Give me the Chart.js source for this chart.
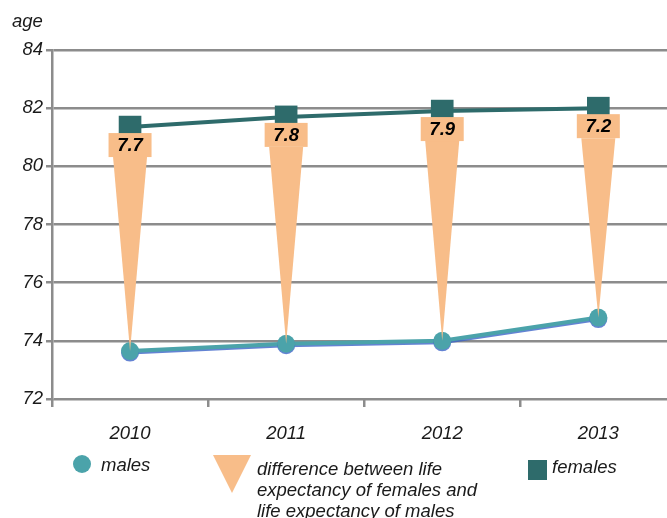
<!DOCTYPE html>
<html>
<head>
<meta charset="utf-8">
<script src="https://cdn.jsdelivr.net/npm/chart.js@4"></script>
<style>
  html, body { margin: 0; overflow: hidden; background: #fff; font-family: "Liberation Sans", Arial, sans-serif; }
  #wrap { position: absolute; left: 0; top: 0; width: 667px; height: 518px; }
  .txt { position: absolute; font-style: italic; font-size: 18.5px; line-height: 21px; color: #1a1a1a; white-space: nowrap; }
  .mk { position: absolute; }
</style>
</head>
<body>
<div id="wrap"><canvas id="life-chart"></canvas></div>
<div class="txt" style="left:12px; top:10px;">age</div>

<!-- legend -->
<div class="mk" style="left:73px; top:455px; width:18px; height:18px; border-radius:50%; background:#4BA3AA;"></div>
<div class="txt" style="left:101px; top:454px;">males</div>
<div class="mk" style="left:213px; top:455px; width:0; height:0; border-left:19.5px solid transparent; border-right:19.5px solid transparent; border-top:38px solid #F8BD89;"></div>
<div class="txt" style="left:257px; top:458px;">difference between life<br>expectancy of females and<br>life expectancy of males</div>
<div class="mk" style="left:528px; top:460px; width:19px; height:20px; background:#2E6B6B;"></div>
<div class="txt" style="left:552px; top:456px;">females</div>

<script>
const YEARS = [2010, 2011, 2012, 2013];
const MALES = [73.65, 73.9, 74.0, 74.8];
const FEMALES = [81.35, 81.7, 81.9, 82.0];
const DIFF_LABELS = ['7.7', '7.8', '7.9', '7.2'];

const GRID = '#8C8C8C';
const TEXT = '#1a1a1a';
const FONT = '"Liberation Sans", Arial, sans-serif';

// the original plot runs past the right edge of the image, so the
// year axis is numeric and its range is cut off before the last slot ends
const X_MIN = 2009.5;
const X_MAX = 2013.44;
const PLOT_RIGHT = 667;

const toPoints = (vals) => vals.map((v, i) => ({ x: YEARS[i], y: v }));

// orange wedge from the female box down to the male point, with the gap value
const diffPlugin = {
  id: 'diffWedges',
  beforeDatasetDraw(chart, args) {
    if (args.index === 0) {
      const ctx = chart.ctx;
      ctx.save();
      ctx.shadowColor = 'rgba(60, 100, 200, 0.8)';
      ctx.shadowOffsetY = 1.5;
    }
  },
  afterDatasetDraw(chart, args) {
    if (args.index === 0) chart.ctx.restore();
  },
  afterDatasetsDraw(chart) {
    const ctx = chart.ctx;
    const males = chart.getDatasetMeta(0).data;
    const females = chart.getDatasetMeta(1).data;
    ctx.save();
    ctx.fillStyle = '#F8BD89';
    females.forEach((pt, i) => {
      const x = pt.x;
      const boxTop = pt.y + 6;
      const boxBottom = boxTop + 24;
      const my = males[i].y;
      ctx.beginPath();
      ctx.moveTo(x - 17, boxBottom);
      ctx.lineTo(x + 17, boxBottom);
      ctx.lineTo(x, my);
      ctx.closePath();
      ctx.fill();
      ctx.fillRect(x - 21.5, boxTop, 43, 24);
    });
    ctx.fillStyle = '#000';
    ctx.font = 'italic bold 18.5px ' + FONT;
    ctx.textAlign = 'center';
    ctx.textBaseline = 'middle';
    females.forEach((pt, i) => {
      ctx.fillText(DIFF_LABELS[i], pt.x, pt.y + 6 + 13);
    });
    ctx.restore();
  }
};

const wrap = document.getElementById('wrap');

const chart = new Chart(document.getElementById('life-chart').getContext('2d'), {
  type: 'line',
  data: {
    datasets: [
      {
        label: 'males',
        data: toPoints(MALES),
        borderColor: '#4BA3AA',
        backgroundColor: '#4BA3AA',
        borderWidth: 4,
        pointStyle: 'circle',
        pointRadius: 9,
        pointBorderWidth: 0,
        tension: 0
      },
      {
        label: 'females',
        data: toPoints(FEMALES),
        borderColor: '#2E6B6B',
        backgroundColor: '#2E6B6B',
        borderWidth: 4,
        pointStyle: 'rect',
        pointRadius: 16,
        pointBorderWidth: 0,
        tension: 0
      }
    ]
  },
  options: {
    responsive: true,
    maintainAspectRatio: false,
    animation: false,
    layout: { padding: { top: 50, left: 0, right: 0, bottom: 69 } },
    plugins: {
      legend: { display: false },
      tooltip: { enabled: false }
    },
    scales: {
      x: {
        type: 'linear',
        min: X_MIN,
        max: X_MAX,
        afterBuildTicks(scale) { scale.ticks = YEARS.map(v => ({ value: v })); },
        grid: { offset: true, drawOnChartArea: false, color: GRID, lineWidth: 2.5, tickLength: 8 },
        border: { display: false },
        ticks: {
          color: TEXT,
          padding: 16,
          font: { family: FONT, size: 18.5, style: 'italic' },
          callback: (v) => String(v)
        },
        afterFit(scale) { scale.height = 50; }
      },
      y: {
        min: 72,
        max: 84,
        ticks: {
          stepSize: 2,
          color: TEXT,
          padding: 3,
          font: { family: FONT, size: 18.5, style: 'italic' }
        },
        grid: { color: GRID, lineWidth: 2.5, tickLength: 6 },
        border: { color: GRID, width: 2.5 },
        afterFit(scale) { scale.width = 52; }
      }
    }
  },
  plugins: [diffPlugin]
});

// Chart.js keeps some room at the right of the plot; widen the (clipped)
// canvas until the plot area reaches the window edge like the original
for (let k = 0; k < 3; k++) {
  const gap = PLOT_RIGHT - chart.chartArea.right;
  if (Math.abs(gap) < 0.5) break;
  wrap.style.width = (wrap.offsetWidth + gap) + 'px';
  chart.resize();
}
</script>
</body>
</html>
